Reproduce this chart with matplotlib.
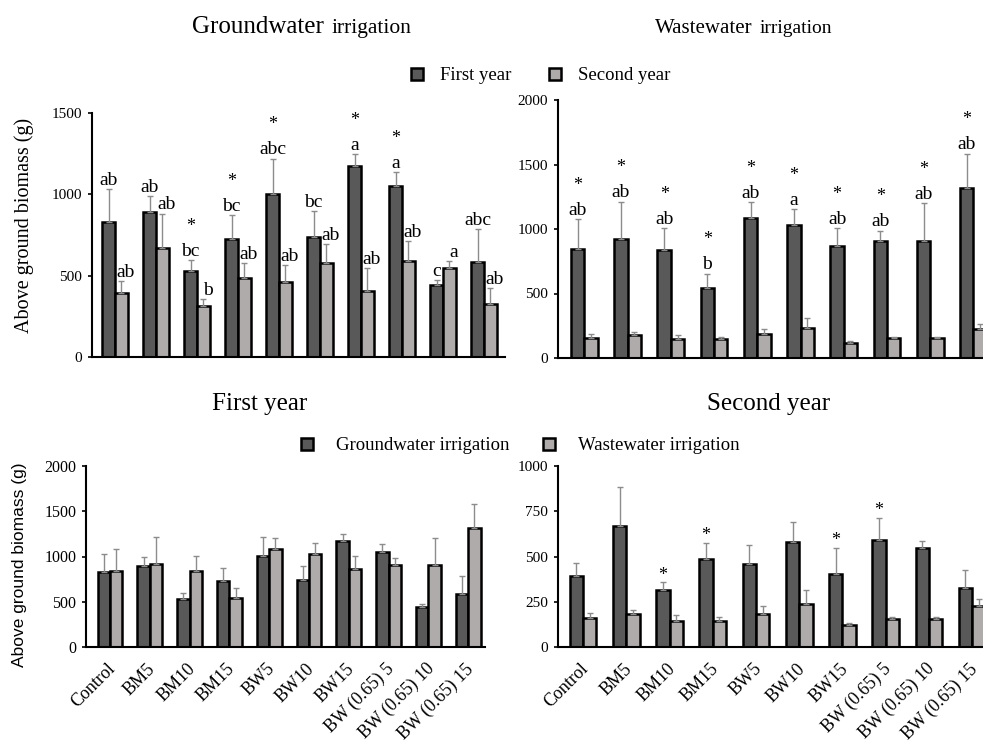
import numpy as np
import matplotlib
matplotlib.use("Agg")
import matplotlib.pyplot as plt
from matplotlib.patches import Patch
from matplotlib.transforms import ScaledTranslation

plt.rcParams['font.family'] = ['Liberation Serif', 'DejaVu Serif']

treatments = ["Control", "BM5", "BM10", "BM15", "BW5", "BW10", "BW15",
              "BW (0.65) 5", "BW (0.65) 10", "BW (0.65) 15"]

# groundwater irrigation
gw_y1 = [831, 892, 527, 728, 1005, 740, 1175, 1052, 440, 585]
gw_y1_err = [201, 98, 71, 147, 215, 155, 72, 83, 31, 199]
gw_y2 = [393, 670, 315, 486, 460, 578, 405, 593, 548, 327]
gw_y2_err = [73, 212, 42, 91, 106, 115, 141, 120, 40, 97]

# wastewater irrigation
ww_y1 = [845, 920, 840, 542, 1085, 1032, 867, 904, 904, 1318]
ww_y1_err = [235, 292, 170, 113, 122, 120, 143, 84, 296, 266]
ww_y2 = [158, 180, 146, 146, 184, 235, 119, 152, 152, 227]
ww_y2_err = [29, 23, 31, 18, 42, 78, 14, 12, 12, 40]

gw_y1_letters = ["ab", "ab", "bc", "bc", "abc", "bc", "a", "a", "c", "abc"]
gw_y1_star = [0, 0, 1, 1, 1, 0, 1, 1, 0, 0]
gw_y2_letters = ["ab", "ab", "b", "ab", "ab", "ab", "ab", "ab", "a", "ab"]
ww_y1_letters = ["ab", "ab", "ab", "b", "ab", "a", "ab", "ab", "ab", "ab"]
ww_y1_star = [1, 1, 1, 1, 1, 1, 1, 1, 1, 1]
y2_star = [0, 0, 1, 1, 0, 0, 1, 1, 0, 0]

DARK = "#595959"
LIGHT = "#AFABAB"
ERR = "#8C8C8C"
W, H = 983, 746
BW = 0.31

fig = plt.figure(figsize=(W / 100, H / 100), dpi=100)


def px_axes(l, t, r, b):
    return fig.add_axes([l / W, 1 - b / H, (r - l) / W, (b - t) / H])


def draw(ax, v1, e1, v2, e2, ymax, step, xlim):
    x = np.arange(len(v1))
    ax.bar(x - BW / 2, v1, BW, color=DARK, edgecolor="black", linewidth=1.8, zorder=2)
    ax.bar(x + BW / 2, v2, BW, color=LIGHT, edgecolor="black", linewidth=1.8, zorder=2)
    ax.errorbar(x - BW / 2, v1, yerr=[np.zeros(len(e1)), e1], fmt="none",
                ecolor=ERR, elinewidth=1, capsize=2.5, capthick=1, zorder=3)
    ax.errorbar(x + BW / 2, v2, yerr=[np.zeros(len(e2)), e2], fmt="none",
                ecolor=ERR, elinewidth=1, capsize=2.5, capthick=1, zorder=3)
    for s in ["top", "right"]:
        ax.spines[s].set_visible(False)
    for s in ["left", "bottom"]:
        ax.spines[s].set_linewidth(1.5)
    ax.set_ylim(0, ymax)
    ax.set_yticks(np.arange(0, ymax + 1, step))
    ax.set_xlim(*xlim)
    ax.tick_params(axis="y", length=3, width=1.2, labelsize=11, pad=4)
    ax.tick_params(axis="x", length=0)
    ax.set_xticks(x)
    return x


def mark(ax, xs, vals, errs, letters=None, stars=None, dx=0):
    for i in range(len(xs)):
        top = vals[i] + errs[i]
        if letters is not None:
            ax.annotate(letters[i], (xs[i], top), xytext=(dx, 3), textcoords="offset points",
                        ha="center", va="baseline", fontsize=14)
        if stars is not None and stars[i]:
            off = 21 if letters is not None else 2
            ax.annotate("*", (xs[i], top), xytext=(dx, off), textcoords="offset points",
                        ha="center", va="baseline", fontsize=13)


def rotated_labels(ax):
    ax.set_xticklabels(treatments, rotation=45, ha="right", va="center",
                       rotation_mode="anchor", fontsize=13)
    ax.tick_params(axis="x", pad=14)
    shift = ScaledTranslation(3 / 100, 0, fig.dpi_scale_trans)
    for lab in ax.get_xticklabels():
        lab.set_transform(lab.get_transform() + shift)


# top left: groundwater
ax1 = px_axes(91.7, 113, 505, 357)
x = draw(ax1, gw_y1, gw_y1_err, gw_y2, gw_y2_err, 1500, 500, (-0.57, 9.51))
ax1.set_xticklabels([])
mark(ax1, x - BW / 2, gw_y1, gw_y1_err, gw_y1_letters, gw_y1_star)
mark(ax1, x + BW / 2, gw_y2, gw_y2_err, gw_y2_letters, None, dx=3)
ax1.set_ylabel("Above ground biomass (g)", fontsize=14.5)
ax1.yaxis.set_label_coords(-0.139, 0.54)

# top right: wastewater
ax2 = px_axes(558, 100, 983, 358)
x = draw(ax2, ww_y1, ww_y1_err, ww_y2, ww_y2_err, 2000, 500, (-0.61, 9.22))
ax2.set_xticklabels([])
mark(ax2, x - BW / 2, ww_y1, ww_y1_err, ww_y1_letters, ww_y1_star)

# bottom left: first year
ax3 = px_axes(86, 466, 485, 647)
x = draw(ax3, gw_y1, gw_y1_err, ww_y1, ww_y1_err, 2000, 500, (-0.6, 9.42))
rotated_labels(ax3)
ax3.tick_params(axis="y", labelsize=11.5)
ax3.set_ylabel("Above ground biomass (g)", fontsize=12.5, family=["Liberation Sans", "DejaVu Sans"])
ax3.yaxis.set_label_coords(-0.147, 0.453)

# bottom right: second year
ax4 = px_axes(558, 466, 983, 647)
x = draw(ax4, gw_y2, gw_y2_err, ww_y2, ww_y2_err, 1000, 250, (-0.58, 9.25))
rotated_labels(ax4)
mark(ax4, x - BW / 2, gw_y2, gw_y2_err, None, y2_star)

# titles
fig.text(192 / W, 1 - 33 / H, "Groundwater", fontsize=18, va="baseline")
fig.text(332 / W, 1 - 33 / H, "irrigation", fontsize=15.5, va="baseline")
fig.text(655 / W, 1 - 33 / H, "Wastewater", fontsize=15, va="baseline")
fig.text(760 / W, 1 - 33 / H, "irrigation", fontsize=14, va="baseline")
fig.text(212 / W, 1 - 410 / H, "First year", fontsize=18, va="baseline")
fig.text(707 / W, 1 - 410 / H, "Second year", fontsize=18, va="baseline")

# legends
h_dark = Patch(facecolor=DARK, edgecolor="black", linewidth=1.8)
h_light = Patch(facecolor=LIGHT, edgecolor="black", linewidth=1.8)
fig.legend([h_dark, h_light], ["First year", "Second year"], ncol=2, frameon=False,
           loc="center left", bbox_to_anchor=(411 / W, 1 - 76 / H), fontsize=13.5,
           handlelength=0.65, handleheight=0.65, handletextpad=0.9, columnspacing=2.0,
           borderpad=0, borderaxespad=0)
fig.legend([h_dark, h_light], ["Groundwater irrigation", "Wastewater irrigation"], ncol=2,
           frameon=False, loc="center left", bbox_to_anchor=(301 / W, 1 - 446 / H),
           fontsize=13.5, handlelength=0.65, handleheight=0.65, handletextpad=1.2,
           columnspacing=1.8, borderpad=0, borderaxespad=0)

fig.savefig("out.png", dpi=100)
